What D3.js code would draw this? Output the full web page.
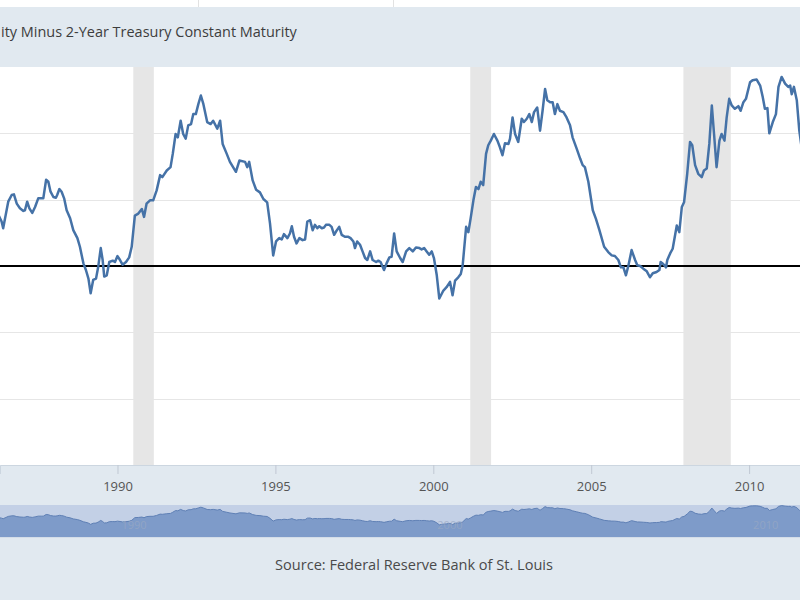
<!DOCTYPE html>
<html><head><meta charset="utf-8">
<script src="https://cdn.jsdelivr.net/npm/d3@7/dist/d3.min.js"></script>
<style>html,body{margin:0;padding:0;background:#fff;}svg{display:block;font-family:"Open Sans",sans-serif;}</style>
</head><body>
<svg id="c" width="800" height="600"></svg>
<script>
const titleVisible = "ity Minus 2-Year Treasury Constant Maturity";
const source = "Source: Federal Reserve Bank of St. Louis";
const tickYears = [1990, 1995, 2000, 2005, 2010];
const navLabelYears = [1990, 2000, 2010];
const gridValues = [-2, -1, 1, 2];
const recessionStart = [1990.50, 2001.17, 2007.92];
const recessionEnd = [1991.15, 2001.83, 2009.42];
const dates = [1986.20,1986.28,1986.33,1986.38,1986.44,1986.54,1986.65,1986.72,1986.81,1986.91,1987.02,1987.07,1987.14,1987.21,1987.30,1987.39,1987.49,1987.60,1987.65,1987.74,1987.81,1987.88,1987.97,1988.05,1988.09,1988.16,1988.23,1988.31,1988.39,1988.50,1988.60,1988.73,1988.81,1988.92,1989.00,1989.08,1989.15,1989.23,1989.32,1989.39,1989.47,1989.53,1989.58,1989.66,1989.74,1989.85,1989.92,1990.00,1990.08,1990.16,1990.27,1990.37,1990.45,1990.55,1990.66,1990.77,1990.84,1990.92,1991.03,1991.13,1991.24,1991.35,1991.42,1991.56,1991.68,1991.75,1991.84,1991.91,1992.00,1992.08,1992.16,1992.24,1992.33,1992.40,1992.48,1992.56,1992.64,1992.72,1992.84,1992.95,1993.03,1993.16,1993.25,1993.33,1993.46,1993.56,1993.75,1993.86,1994.04,1994.11,1994.17,1994.28,1994.39,1994.51,1994.62,1994.74,1994.83,1994.93,1995.02,1995.12,1995.20,1995.27,1995.38,1995.46,1995.52,1995.59,1995.67,1995.76,1995.86,1995.94,1996.01,1996.10,1996.18,1996.25,1996.33,1996.39,1996.47,1996.54,1996.60,1996.71,1996.78,1996.86,1996.92,1997.02,1997.10,1997.20,1997.31,1997.38,1997.47,1997.52,1997.59,1997.68,1997.76,1997.84,1997.91,1998.00,1998.08,1998.19,1998.26,1998.33,1998.44,1998.52,1998.61,1998.68,1998.76,1998.84,1998.95,1999.03,1999.14,1999.24,1999.35,1999.45,1999.56,1999.63,1999.71,1999.79,1999.87,1999.95,2000.02,2000.11,2000.19,2000.32,2000.42,2000.53,2000.61,2000.69,2000.79,2000.87,2000.93,2001.04,2001.11,2001.18,2001.27,2001.35,2001.43,2001.50,2001.58,2001.67,2001.74,2001.82,2001.92,2002.03,2002.11,2002.19,2002.27,2002.38,2002.43,2002.51,2002.59,2002.69,2002.80,2002.87,2002.96,2003.04,2003.12,2003.19,2003.29,2003.38,2003.46,2003.54,2003.61,2003.70,2003.78,2003.85,2003.93,2004.01,2004.12,2004.22,2004.33,2004.41,2004.54,2004.65,2004.73,2004.80,2004.91,2005.05,2005.15,2005.26,2005.41,2005.54,2005.65,2005.75,2005.86,2005.94,2006.02,2006.10,2006.18,2006.28,2006.39,2006.46,2006.55,2006.65,2006.76,2006.86,2006.95,2007.07,2007.16,2007.20,2007.28,2007.37,2007.41,2007.50,2007.58,2007.71,2007.79,2007.87,2007.94,2008.04,2008.13,2008.20,2008.29,2008.39,2008.50,2008.57,2008.66,2008.74,2008.82,2008.89,2008.97,2009.06,2009.13,2009.22,2009.29,2009.37,2009.45,2009.55,2009.66,2009.73,2009.82,2009.90,2010.03,2010.11,2010.24,2010.35,2010.43,2010.50,2010.58,2010.64,2010.75,2010.85,2010.93,2011.03,2011.14,2011.24,2011.30,2011.35,2011.42,2011.51,2011.59,2011.66];
const spread = [0.80,0.72,0.67,0.57,0.72,0.97,1.07,1.08,0.94,0.87,0.83,0.84,0.97,0.87,0.80,0.89,1.02,1.02,1.02,1.30,1.27,1.12,1.04,1.03,1.07,1.16,1.12,1.02,0.84,0.72,0.54,0.42,0.29,0.04,-0.06,-0.19,-0.41,-0.21,-0.19,-0.01,0.27,0.09,-0.16,-0.14,0.06,0.08,0.06,0.15,0.09,0.02,0.06,0.13,0.29,0.76,0.79,0.86,0.74,0.94,0.99,0.99,1.14,1.37,1.34,1.44,1.49,1.69,1.99,1.94,2.19,1.99,1.92,2.12,2.14,2.29,2.29,2.44,2.57,2.44,2.17,2.14,2.19,2.07,2.19,1.84,1.69,1.57,1.42,1.59,1.57,1.49,1.57,1.29,1.15,1.11,1.01,0.96,0.64,0.16,0.37,0.42,0.40,0.48,0.42,0.49,0.60,0.44,0.34,0.42,0.39,0.40,0.67,0.69,0.54,0.62,0.57,0.60,0.57,0.58,0.62,0.62,0.59,0.47,0.52,0.59,0.47,0.44,0.44,0.42,0.37,0.27,0.37,0.32,0.22,0.12,0.09,0.22,0.09,0.06,0.08,0.06,-0.06,0.04,0.13,0.14,0.49,0.22,0.12,0.06,0.22,0.27,0.22,0.28,0.27,0.25,0.27,0.22,0.17,0.22,0.12,-0.14,-0.49,-0.37,-0.32,-0.24,-0.44,-0.22,-0.17,-0.12,0.01,0.59,0.51,0.71,0.99,1.19,1.16,1.27,1.22,1.69,1.82,1.89,1.99,1.89,1.79,1.67,1.85,1.84,1.92,2.24,1.99,1.87,2.22,2.17,2.22,2.29,2.17,2.32,2.39,2.04,2.34,2.67,2.50,2.47,2.47,2.29,2.44,2.34,2.32,2.24,2.12,1.94,1.77,1.62,1.52,1.49,1.27,0.84,0.71,0.54,0.29,0.21,0.16,0.15,0.09,-0.02,-0.02,-0.14,0.01,0.24,0.09,0.01,0.00,-0.04,-0.08,-0.17,-0.11,-0.09,-0.06,0.06,0.03,-0.02,0.09,0.19,0.26,0.61,0.51,0.89,0.96,1.39,1.87,1.82,1.52,1.39,1.34,1.44,1.47,1.84,2.42,1.99,1.49,1.89,1.99,1.89,2.24,2.52,2.42,2.37,2.41,2.34,2.47,2.52,2.77,2.80,2.81,2.72,2.55,2.37,2.38,2.00,2.17,2.29,2.70,2.85,2.75,2.70,2.72,2.59,2.70,2.50,2.04,1.80];

const data = dates.map((d, i) => ({ t: d, v: spread[i] }));
const svg = d3.select("#c");
const W = 800, H = 600;
const bg = "#e1e9f0";

function fitText(sel, targetWidth, baseSize) {
  sel.attr("font-size", baseSize);
  const w = sel.node().getComputedTextLength();
  if (w > 0) sel.attr("font-size", (baseSize * targetWidth / w).toFixed(2));
}

// page background blocks
svg.append("rect").attr("x", 0).attr("y", 0).attr("width", W).attr("height", H).attr("fill", bg);
svg.append("rect").attr("x", 0).attr("y", 0).attr("width", W).attr("height", 7).attr("fill", "#fff");
[198.5, 393.5].forEach(x => svg.append("line").attr("x1", x).attr("x2", x).attr("y1", 0).attr("y2", 7).attr("stroke", "#e2e2e2"));

// title (left part is outside the captured frame)
const t = svg.append("text").attr("x", 1).attr("y", 37).attr("fill", "#3d3d3d").text(titleVisible);
fitText(t, 296, 14);

const plotTop = 67, plotBottom = 465;
const x = d3.scaleLinear().domain([1986.2794, 2011.6118]).range([0, W]);
const y = d3.scaleLinear().domain([-3, 3]).range([plotBottom, plotTop]);

svg.append("defs").append("clipPath").attr("id", "clip")
  .append("rect").attr("x", 0).attr("y", plotTop).attr("width", W).attr("height", plotBottom - plotTop);

const plot = svg.append("g");
plot.append("rect").attr("x", 0).attr("y", plotTop).attr("width", W).attr("height", plotBottom - plotTop).attr("fill", "#fff");

// recessions
plot.selectAll(".rec").data(recessionStart).enter().append("rect")
  .attr("x", (d) => x(d)).attr("width", (d, i) => x(recessionEnd[i]) - x(d))
  .attr("y", plotTop).attr("height", plotBottom - plotTop).attr("fill", "#e6e6e6");

// grid
plot.selectAll(".grid").data(gridValues).enter().append("line")
  .attr("x1", 0).attr("x2", W).attr("y1", d => Math.round(y(d)) + 0.5).attr("y2", d => Math.round(y(d)) + 0.5)
  .attr("stroke", "#e6e6e6").attr("stroke-width", 1);

// zero line
plot.append("line").attr("x1", 0).attr("x2", W).attr("y1", y(0)).attr("y2", y(0))
  .attr("stroke", "#000").attr("stroke-width", 2);

// series
plot.append("path").datum(data).attr("clip-path", "url(#clip)")
  .attr("fill", "none").attr("stroke", "#4572a7").attr("stroke-width", 2.5).attr("stroke-linejoin", "round")
  .attr("d", d3.line().x(d => x(d.t)).y(d => y(d.v)));

// x axis
const axisG = svg.append("g").attr("transform", `translate(0,${plotBottom})`);
const ax = d3.axisBottom(x).tickValues(tickYears).tickFormat(d3.format("d")).tickSize(9).tickPadding(5);
axisG.call(ax);
axisG.select(".domain").attr("stroke", "#ccd6e0");
axisG.selectAll(".tick line").attr("stroke", "#c0c8d3");
axisG.selectAll(".tick text").attr("font-family", "Open Sans").attr("font-size", 13).attr("fill", "#555").attr("dy", "0.9em");

// navigator
const navTop = 505, navBottom = 537;
const ny = d3.scaleLinear().domain([-2.6, 2.95]).range([navBottom, navTop]);
svg.append("rect").attr("x", 0).attr("y", navTop).attr("width", W).attr("height", navBottom - navTop).attr("fill", "#c3d0e6");
svg.append("path").datum(data).attr("fill", "#7e9bc9")
  .attr("d", d3.area().x(d => x(d.t)).y0(navBottom).y1(d => ny(d.v)));
svg.append("path").datum(data).attr("fill", "none").attr("stroke", "#5f80b5").attr("stroke-width", 1)
  .attr("d", d3.line().x(d => x(d.t)).y(d => ny(d.v)));
svg.selectAll(".navlab").data(navLabelYears).enter().append("text")
  .attr("x", d => x(d) + 4).attr("y", 529).attr("font-size", 11).attr("fill", "#9aa9c4").attr("opacity", 0.7)
  .text(d => d);
svg.append("line").attr("x1", 0).attr("x2", W).attr("y1", navBottom + 0.5).attr("y2", navBottom + 0.5).attr("stroke", "#d4dde8");

// source
const s = svg.append("text").attr("x", 414).attr("y", 570).attr("text-anchor", "middle")
  .attr("fill", "#4a4a4a").text(source);
fitText(s, 278, 14);
</script>
</body></html>
